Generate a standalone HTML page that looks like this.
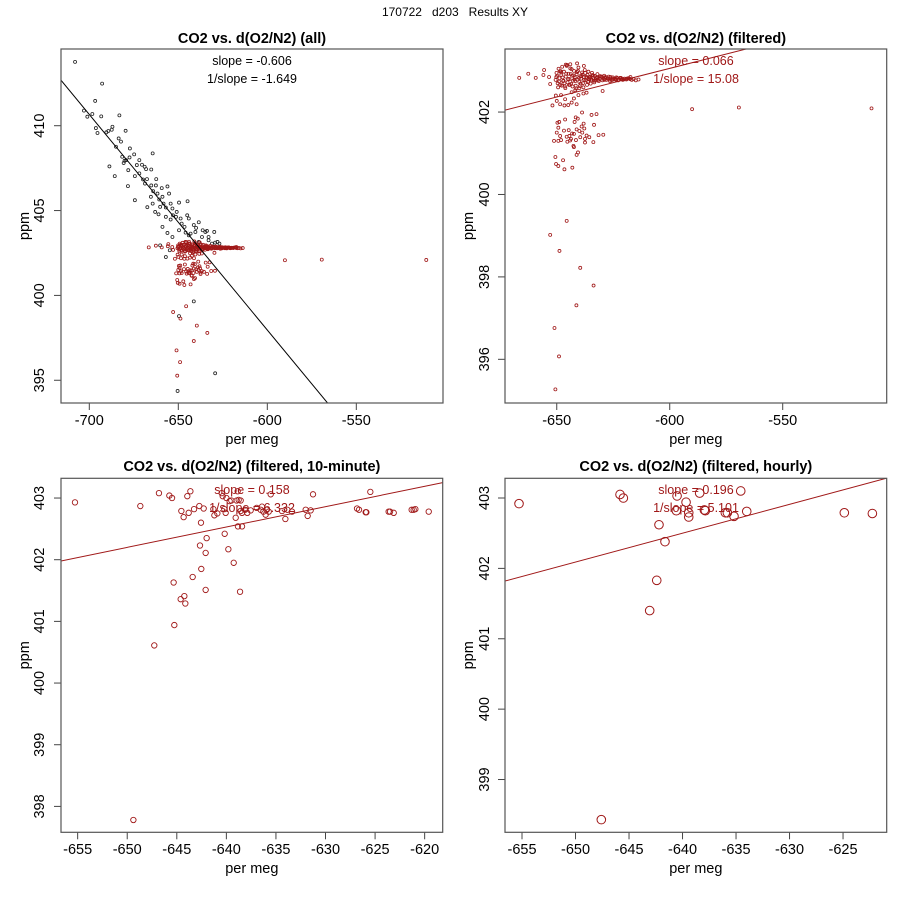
<!DOCTYPE html>
<html><head><meta charset="utf-8"><style>
html,body{margin:0;padding:0;background:#fff;}
svg{display:block;font-family:"Liberation Sans",sans-serif;}
</style></head><body>
<svg id="chart" width="900" height="900" viewBox="0 0 900 900" xmlns="http://www.w3.org/2000/svg">
<rect x="0" y="0" width="900" height="900" fill="#fff"/>
<text x="455" y="16" font-size="12" text-anchor="middle" fill="#000" xml:space="preserve">170722   d203   Results XY</text>
</svg>
<script>
// ---- data: all (unfiltered) points, black ----
const allX = [-708.0,-692.8,-696.7,-703.0,-701.1,-698.3,-693.3,-696.3,-695.4,-690.4,-689.3,-683.1,-687.0,-687.4,-679.6,-683.5,-682.2,-685.0,-677.2,-674.8,-681.5,-680.2,-680.7,-679.3,-677.4,-671.9,-673.3,-670.4,-668.1,-665.2,-668.9,-664.4,-688.7,-678.1,-674.4,-671.9,-685.7,-669.8,-667.6,-662.4,-678.3,-665.2,-668.7,-664.1,-662.6,-659.3,-656.1,-661.7,-658.9,-660.7,-655.2,-658.3,-660.2,-667.4,-674.4,-654.3,-649.6,-644.8,-657.0,-653.3,-650.9,-653.0,-654.3,-651.3,-648.7,-645.0,-644.1,-648.1,-646.5,-641.3,-638.5,-640.0,-636.3,-634.8,-633.9,-629.8,-656.1,-653.3,-649.6,-645.9,-643.1,-640.4,-636.7,-633.0,-628.0,-631.1,-657.0,-660.2,-654.8,-641.3,-649.6,-629.3,-650.4,-633.0,-638.5,-629.3,-626.9,-644.1,-658.9,-657.0,-663.0,-661.1,-665.4,-664.4];
const allY = [413.76,412.48,411.46,410.89,410.53,410.69,410.55,409.86,409.57,409.61,409.69,410.61,409.94,409.76,409.70,409.25,409.06,408.76,408.66,408.31,408.17,407.93,407.80,407.97,408.13,407.97,407.68,407.70,407.44,407.42,407.58,408.37,407.60,407.38,407.03,407.19,407.03,406.83,406.85,406.85,406.44,406.48,406.59,406.14,406.48,406.32,406.42,406.00,405.81,405.65,406.00,405.41,405.22,405.20,405.61,405.41,405.47,405.55,405.18,405.12,404.92,404.72,404.47,404.63,404.53,404.72,404.53,404.23,404.04,404.15,404.31,403.98,403.84,403.74,403.80,403.74,403.68,403.44,403.84,403.70,403.64,403.74,403.44,403.44,403.15,403.05,402.26,402.95,402.66,399.65,398.78,395.41,394.37,403.25,403.15,403.11,403.05,403.54,404.04,404.63,404.92,404.78,405.81,405.41];
// ---- data: filtered points, red ----
const filtX = [-590.1,-569.4,-510.7,-645.6,-652.9,-648.8,-639.6,-633.7,-641.3,-651.0,-649.0,-650.6,
-650.6,-650.3,-649.3,-647.2,-646.6,-643.1,-641.2,-640.6,-642.4,-651.2,-649.3,-648.1,-648.5,-650.0,-649.3,-649.7,-648.9,-646.3,-644.7,-644.4,-643.2,-642.4,-641.2,-640.0,-639.0,-638.1,-637.8,-638.7,-636.8,-637.5,-637.5,-635.6,-633.8,-631.5,-629.4,-634.6,-632.4,-633.5,-638.8,-640.7,-641.6,-642.1,-644.1,-645.3,-642.6,-646.8,-645.6,-643.7,-641.5,-639.6,
-651.9,-650.0,-648.5,-646.6,-644.9,-643.4,-641.2,-642.4,-646.3,-650.4,-648.1,-640.4,-638.2,-636.8,-629.7,-643.4,-641.8,
-666.6,-662.6,-659.3,-655.6,-655.9,-653.4,-652.9,
-650.5,-650.1,-649.6,-649.2,-648.8,-648.4,-648.0,-647.6,-647.2,-646.8,-646.4,-646.0,-645.6,-645.2,-644.8,-644.4,-644.0,-643.6,-643.2,-642.8,-642.4,-642.0,-641.6,-641.2,-640.8,-640.4,-640.0,-639.6,-639.2,-638.8,-638.4,-638.0,-637.6,-637.2,-636.8,-636.4,-636.0,-635.6,-635.2,-634.8,-634.4,-634.0,-633.6,-633.2,-632.8,-632.2,-631.6,-631.0,-630.4,-629.8,-629.2,-628.6,-628.0,-627.4,-626.8,-626.2,-625.6,-625.0,-624.4,-623.8,-623.2,-622.6,-622.0,-621.4,-620.8,-620.0,-619.2,-618.4,-617.6,-616.8,-616.0,-615.0,-613.8,
-649.8,-649.0,-648.2,-647.4,-646.6,-645.8,-645.0,-644.2,-643.4,-642.6,-641.8,-641.0,-640.2,-639.4,-638.6,-637.8,-637.0,-636.2,-635.4,-634.6,-633.8,-633.0,-632.0,-631.0,-630.0,-628.8,-627.6,-626.4,-625.2,-624.0,-622.8,-621.6,-620.4,-619.0,-617.4,
-650.2,-648.6,-647.0,-645.4,-643.8,-642.2,-640.6,-639.0,-637.4,-635.8,-634.2,-632.6,-630.8,-628.4,-626.0,-623.6,-621.0,-618.0,
-649.4,-647.8,-646.2,-644.6,-643.0,-641.4,-639.8,-638.2,-636.6,-635.0,-633.4,-631.4,-644.0,-641.0,-638.0,-646.0,-636.0,-640.0,-648.0,-632.0,-629.0,-627.0];
const filtY = [402.07,402.11,402.09,399.36,399.02,398.63,398.22,397.79,397.31,396.76,396.07,395.27,
400.91,400.74,400.69,400.83,400.61,400.65,400.96,401.02,401.15,401.30,401.30,401.32,401.42,401.50,401.62,401.74,401.76,401.82,401.56,401.42,401.48,401.47,401.58,401.54,401.65,401.72,401.60,401.50,401.43,401.35,401.26,401.39,401.27,401.44,401.45,401.93,401.95,401.69,401.99,401.84,401.87,401.76,401.31,401.28,401.18,401.55,401.40,401.35,401.32,401.39,
402.16,402.27,402.19,402.16,402.17,402.23,402.19,402.33,402.31,402.40,402.41,402.41,402.45,402.47,402.51,402.48,402.53,
402.83,402.93,402.83,403.02,402.90,402.85,402.68,
402.78,402.95,402.70,403.05,402.82,402.66,402.90,403.10,402.75,402.98,402.62,402.86,403.12,402.72,402.93,402.80,403.06,402.68,402.88,402.76,403.00,402.84,402.64,402.92,402.79,403.08,402.73,402.87,402.81,402.96,402.70,402.85,403.02,402.77,402.83,402.90,402.74,402.80,402.86,402.78,402.95,402.82,402.76,402.88,402.79,402.84,402.78,402.81,402.86,402.77,402.80,402.83,402.78,402.82,402.79,402.85,402.77,402.80,402.81,402.78,402.82,402.79,402.83,402.80,402.78,402.81,402.79,402.82,402.80,402.78,402.80,402.77,402.79,
402.88,402.74,402.99,402.84,402.70,402.93,402.80,402.66,403.04,402.89,402.75,402.97,402.83,402.69,402.91,402.78,402.86,402.73,402.84,402.79,402.88,402.76,402.83,402.80,402.86,402.78,402.82,402.75,402.84,402.80,402.77,402.83,402.79,402.81,402.85,
402.85,402.99,402.76,403.14,402.92,402.79,403.00,402.87,402.95,402.84,402.90,402.82,402.87,402.85,402.81,402.84,402.80,402.82,
402.60,402.64,402.58,402.66,402.62,402.57,402.63,402.60,402.66,402.69,402.72,402.75,403.16,403.18,403.12,403.15,402.98,402.58,402.96,402.92,402.88,402.86];
// ---- data: filtered 10-minute averages ----
const tenX = [-655.27,-648.68,-646.80,-645.75,-645.48,-643.94,-643.63,-644.54,-644.31,-643.80,-643.26,-642.73,-642.56,-642.29,-642.66,-642.09,-641.99,-642.53,-643.40,-645.32,-644.24,-644.61,-644.14,-642.09,-645.25,-647.27,-649.38,-641.31,-641.21,-640.91,-640.47,-640.37,-640.21,-640.07,-640.00,-639.67,-639.50,-640.17,-639.80,-639.26,-639.06,-638.96,-638.86,-638.83,-638.76,-638.56,-638.56,-638.42,-638.42,-638.12,-637.89,-637.55,-638.62,-636.94,-636.54,-636.41,-636.27,-636.04,-635.93,-635.73,-635.53,-634.39,-634.05,-633.85,-633.38,-632.00,-631.80,-631.50,-631.26,-626.82,-626.62,-625.95,-625.88,-625.48,-623.63,-623.49,-623.12,-621.31,-621.11,-620.94,-619.59];
const tenY = [402.93,402.87,403.08,403.04,403.00,403.03,403.11,402.79,402.69,402.76,402.82,402.87,402.60,402.83,402.23,402.11,402.35,401.85,401.72,401.63,401.41,401.36,401.29,401.51,400.94,400.61,397.78,402.82,402.72,402.75,403.08,403.03,402.82,402.76,403.00,402.95,402.96,402.42,402.17,401.95,402.68,402.96,403.11,402.54,402.97,402.79,402.96,402.54,402.76,402.81,402.76,402.80,401.48,402.84,402.81,402.86,402.78,402.73,402.81,402.78,403.06,402.79,402.66,402.81,402.78,402.81,402.71,402.80,403.06,402.83,402.81,402.77,402.77,403.10,402.78,402.78,402.76,402.81,402.81,402.82,402.78];
// ---- data: filtered hourly averages ----
const hourX = [-655.28,-645.84,-645.53,-640.51,-639.67,-640.58,-639.42,-639.42,-638.40,-637.96,-637.87,-636.00,-635.81,-635.19,-634.56,-634.00,-642.20,-641.64,-642.41,-643.07,-647.59,-624.88,-622.26];
const hourY = [402.92,403.05,403.00,403.03,402.94,402.82,402.79,402.73,403.07,402.83,402.82,402.79,402.79,402.74,403.10,402.81,402.62,402.38,401.83,401.40,398.43,402.79,402.78];
// ---- tick labels ----
const p1XTicks = [-700,-650,-600,-550];
const p1YTicks = [395,400,405,410];
const p2XTicks = [-650,-600,-550];
const p2YTicks = [396,398,400,402];
const p3XTicks = [-655,-650,-645,-640,-635,-630,-625,-620];
const p3YTicks = [398,399,400,401,402,403];
const p4XTicks = [-655,-650,-645,-640,-635,-630,-625];
const p4YTicks = [399,400,401,402,403];
// ---- regression fits (slope, intercept in data units) ----
const fitSlopes = [-0.127, 0.0139, 0.033, 0.041];
const fitIntercepts = [321.76, 411.40, 423.65, 428.74];
const slopeLabels = ["slope = -0.606","slope = 0.066","slope = 0.158","slope = 0.196"];
const invSlopeLabels = ["1/slope = -1.649","1/slope = 15.08","1/slope = 6.332","1/slope = 5.101"];

const NS = "http://www.w3.org/2000/svg";
const svg = document.getElementById('chart');
const RED = "#a01818";
function mk(tag, attrs, parent){const e=document.createElementNS(NS,tag);for(const k in attrs)e.setAttribute(k,attrs[k]);(parent||svg).appendChild(e);return e;}

const panels = [
 {id:'all', title:'CO2 vs. d(O2/N2) (all)', box:[61,49,443,403], xd:[-715.9,-501.3], yd:[393.66,414.52], xt:p1XTicks, yt:p1YTicks, labCol:'#000', lineCol:'#000', tx:252, slopeY:[65,83], titleY:43, xlabY:444, tickY:425, ylabX:29, ytx:44},
 {id:'filtered', title:'CO2 vs. d(O2/N2) (filtered)', box:[505,49,886.7,403], xd:[-672.9,-503.98], yd:[394.94,403.53], xt:p2XTicks, yt:p2YTicks, labCol:RED, lineCol:RED, tx:696, slopeY:[65,83], titleY:43, xlabY:444, tickY:425, ylabX:473, ytx:489},
 {id:'ten-minute', title:'CO2 vs. d(O2/N2) (filtered, 10-minute)', box:[61,478.3,442.7,832.3], xd:[-656.68,-618.18], yd:[397.58,403.32], xt:p3XTicks, yt:p3YTicks, labCol:RED, lineCol:RED, tx:252, slopeY:[494,512], titleY:471, xlabY:873, tickY:854, ylabX:29, ytx:44},
 {id:'hourly', title:'CO2 vs. d(O2/N2) (filtered, hourly)', box:[505,478.3,886.7,832.3], xd:[-656.59,-620.92], yd:[398.25,403.28], xt:p4XTicks, yt:p4YTicks, labCol:RED, lineCol:RED, tx:696, slopeY:[494,512], titleY:471, xlabY:873, tickY:854, ylabX:473, ytx:489}
];

panels.forEach((p,pi)=>{
  const [x0,y0,x1,y1]=p.box;
  const sx=v=>x0+(v-p.xd[0])/(p.xd[1]-p.xd[0])*(x1-x0);
  const sy=v=>y1-(v-p.yd[0])/(p.yd[1]-p.yd[0])*(y1-y0);
  const g=mk('g',{});
  
  
  const cp=mk('clipPath',{id:'clip'+pi},g); mk('rect',{x:x0,y:y0,width:x1-x0,height:y1-y0},cp);
  const t=mk('text',{x:(x0+x1)/2,y:p.titleY,'font-size':14.5,'font-weight':'bold','text-anchor':'middle'},g); t.textContent=p.title;
  
  
  // x ticks
  p.xt.forEach(v=>{const x=sx(v);
    const l=mk('line',{x1:x,x2:x,y1:y1,y2:y1+7,stroke:'#444','stroke-width':1},g);
    
    
    const tt=mk('text',{x:x,y:p.tickY,'font-size':14.5,'text-anchor':'middle'},g); tt.textContent=v;
    
    
  });
  p.yt.forEach(v=>{const y=sy(v);
    const l=mk('line',{x1:x0-7,x2:x0,y1:y,y2:y,stroke:'#444','stroke-width':1},g);
    
    
    const tt=mk('text',{x:p.ytx,y:y,'font-size':14.5,'text-anchor':'middle',transform:`rotate(-90 ${p.ytx} ${y})`},g); tt.textContent=v;
    
    
  });
  const xl=mk('text',{x:(x0+x1)/2,y:p.xlabY,'font-size':14.5,'text-anchor':'middle'},g); xl.textContent='per meg';
  
  
  const ycy=(y0+y1)/2;
  const yl=mk('text',{x:p.ylabX,y:ycy,'font-size':14.5,'text-anchor':'middle',transform:`rotate(-90 ${p.ylabX} ${ycy})`},g); yl.textContent='ppm';
  
  
  // points
  const pts=mk('g',{'clip-path':`url(#clip${pi})`,fill:'none'},g);
  
  
  function dots(xs,ys,col,r,sw){for(let i=0;i<xs.length;i++){
    const c=mk('circle',{cx:sx(xs[i]),cy:sy(ys[i]),r:r,stroke:col,'stroke-width':sw},pts);
    
    
  }}
  if(pi===0){dots(allX,allY,'#222',1.5,0.8);dots(filtX,filtY,RED,1.5,0.8);}
  if(pi===1){dots(filtX,filtY,RED,1.5,0.8);}
  if(pi===2){dots(tenX,tenY,RED,2.7,0.9);}
  if(pi===3){dots(hourX,hourY,RED,4.3,1);}
  // fit line
  const b=fitSlopes[pi],a=fitIntercepts[pi];
  const fl=mk('line',{x1:sx(p.xd[0]),y1:sy(a+b*p.xd[0]),x2:sx(p.xd[1]),y2:sy(a+b*p.xd[1]),stroke:p.lineCol,'stroke-width':1,'clip-path':`url(#clip${pi})`},g);
  
  
  const s1=mk('text',{x:p.tx,y:p.slopeY[0],'font-size':12.5,'text-anchor':'middle',fill:p.labCol},g); s1.textContent=slopeLabels[pi];
  
  
  const s2=mk('text',{x:p.tx,y:p.slopeY[1],'font-size':12.5,'text-anchor':'middle',fill:p.labCol},g); s2.textContent=invSlopeLabels[pi];
  
  
  const bx=mk('rect',{x:x0,y:y0,width:x1-x0,height:y1-y0,fill:'none',stroke:'#555','stroke-width':1.2},g);
  
  
});
</script>
</body></html>
